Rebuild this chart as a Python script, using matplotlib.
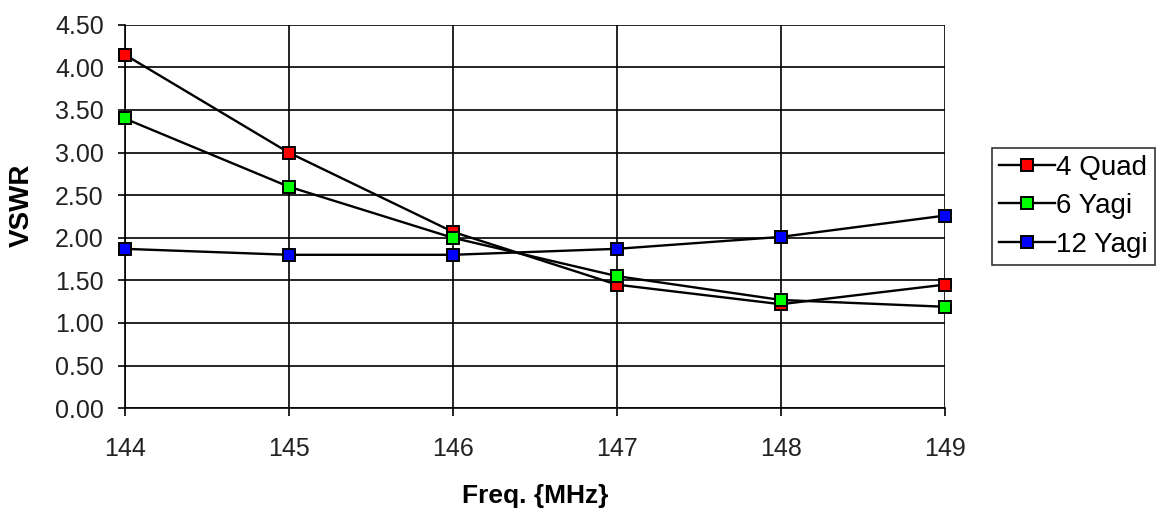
import matplotlib
matplotlib.use("Agg")
import matplotlib.pyplot as plt

# Date
frecvente = [144, 145, 146, 147, 148, 149]
quad4 = [4.15, 3.00, 2.07, 1.45, 1.22, 1.45]
yagi6 = [3.40, 2.60, 2.00, 1.55, 1.27, 1.19]
yagi12 = [1.87, 1.80, 1.80, 1.87, 2.01, 2.26]

serii = [
    ("4 Quad", quad4, "#ff0000"),
    ("6 Yagi", yagi6, "#00ff00"),
    ("12 Yagi", yagi12, "#0000ff"),
]

y_ticks = [0.0, 0.5, 1.0, 1.5, 2.0, 2.5, 3.0, 3.5, 4.0, 4.5]

plt.rcParams["font.family"] = ["Liberation Sans", "DejaVu Sans"]

fig = plt.figure(figsize=(11.65, 5.16), dpi=100)
ax = fig.add_axes([0.107, 0.209, 0.704, 0.743])

for nume, valori, culoare in serii:
    ax.plot(frecvente, valori, color="black", linewidth=1.7,
            marker="s", markersize=8.5, markerfacecolor=culoare,
            markeredgecolor="black", markeredgewidth=1.4, label=nume,
            clip_on=False, zorder=3)

ax.set_xlim(144, 149)
ax.set_ylim(0, 4.5)
ax.set_xticks(frecvente)
ax.set_yticks(y_ticks)
ax.set_yticklabels([f"{v:.2f}" for v in y_ticks])
ax.grid(True, color="black", linewidth=1.2)
ax.set_axisbelow(True)
for s in ax.spines.values():
    s.set_color("black")
    s.set_linewidth(1.2)
ax.spines["top"].set_visible(False)
ax.spines["right"].set_visible(False)
ax.tick_params(axis="y", direction="out", length=5, width=1.2, labelsize=18,
               labelcolor="#222222", pad=10)
ax.tick_params(axis="x", direction="out", length=6, width=1.2, labelsize=18,
               labelcolor="#222222", pad=15)

ax.set_xlabel("Freq. {MHz}", fontsize=19, fontweight="bold")
ax.set_ylabel("VSWR", fontsize=20, fontweight="bold")
ax.xaxis.set_label_coords(0.5, -0.198)
ax.yaxis.set_label_coords(-0.11, 0.53)

leg = ax.legend(loc="center left", bbox_to_anchor=(1.058, 0.527), fontsize=20,
                frameon=True, fancybox=False, edgecolor="black",
                handlelength=2.0, handletextpad=0.05, borderpad=0.25,
                labelspacing=0.45, borderaxespad=0)
leg.get_frame().set_linewidth(1.2)

fig.savefig("out.png", dpi=100)
